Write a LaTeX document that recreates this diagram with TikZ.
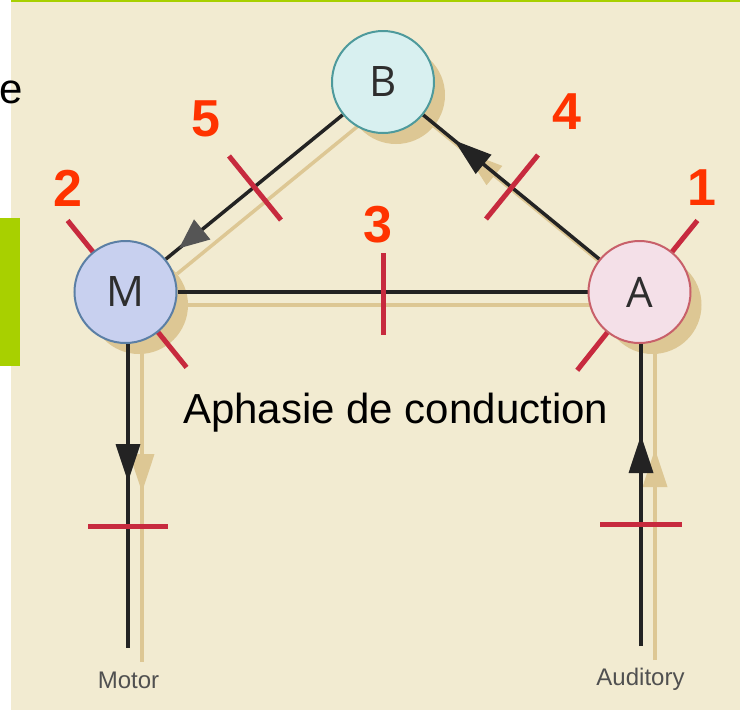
\documentclass[tikz,border=0pt]{standalone}
\usepackage{fontspec}
\setmainfont{Liberation Sans}
\newfontfamily\hubfont{Open Sans}
\usetikzlibrary{arrows.meta,decorations.markings,calc}
\definecolor{paper}{HTML}{F2EBD1}
\definecolor{lime}{HTML}{A8D000}
\definecolor{tan}{HTML}{DDC794}
\definecolor{wire}{HTML}{232323}
\definecolor{grayarrow}{HTML}{555555}
\definecolor{lesred}{HTML}{C72A3E}
\definecolor{numred}{HTML}{FF3300}
\definecolor{txt}{HTML}{2E2E2E}
\definecolor{labgray}{HTML}{505050}
\definecolor{Bfill}{HTML}{D8F0F0}
\definecolor{Bdraw}{HTML}{4E9A9C}
\definecolor{Mfill}{HTML}{C8D0EF}
\definecolor{Mdraw}{HTML}{5B7FA5}
\definecolor{Afill}{HTML}{F4E0E8}
\definecolor{Adraw}{HTML}{C8606A}
\tikzset{
  hub/.style={circle, minimum size=102pt, inner sep=0pt, line width=2pt,
    font=\hubfont\fontsize{42}{42}\selectfont, text=txt},
  shadowhub/.style={circle, minimum size=98pt, inner sep=0pt, fill=tan},
  wire/.style={line width=3.5pt, draw=wire},
  swire/.style={line width=3.5pt, draw=tan},
  lesion/.style={line width=5pt, draw=lesred},
  num/.style={font=\bfseries\fontsize{52}{52}\selectfont, text=numred, inner sep=0pt},
  tipat/.style args={#1/#2}{postaction={decorate}, decoration={markings,
    mark=at position #1 with {\arrow{Triangle[length=38pt,width=24pt,color=#2]}}}},
  graytip/.style={postaction={decorate}, decoration={markings,
    mark=at position #1 with {\arrow{Triangle[length=30pt,width=25pt,color=grayarrow]}}}},
}
\begin{document}
\begin{tikzpicture}[x=1pt,y=-1pt]
\useasboundingbox (0,0) rectangle (740,710);
% background
\fill[white] (0,0) rectangle (740,710);
\fill[paper] (11,2) rectangle (740,710);
\fill[lime] (11,0) rectangle (740,2);
\fill[lime] (0,218) rectangle (20,366);
% cut-off text
\node[anchor=base east, inner sep=0pt, font=\fontsize{42}{42}\selectfont] (cut) at (23,103) {e};
% shadow network
\node[shadowhub] (sB) at (396,95) {};
\node[shadowhub] (sM) at (139,305) {};
\node[shadowhub] (sA) at (652.5,305) {};
\coordinate (smot) at (142,662);
\coordinate (saud) at (655,660);
\draw[swire] (sB) -- (sM);
\draw[swire] (sM) -- (sA);
\draw[swire, tipat={-40pt/tan}] (sA) -- (sB);
\draw[swire, tipat={138pt/tan}] (sM.south -| smot) -- (smot);
\draw[swire, tipat={211pt/tan}] (saud) -- (saud |- sA.south);
% main nodes positions
\coordinate (Bc) at (383,82);
\coordinate (Mc) at (125.5,292);
\coordinate (Ac) at (639.5,292);
\coordinate (mot) at (128,648);
\coordinate (aud) at (641,646);
\node[hub, draw=none] (B) at (Bc) {};
\node[hub, draw=none] (M) at (Mc) {};
\node[hub, draw=none] (A) at (Ac) {};
% connectors
\draw[wire, graytip=-17pt] (B) -- (M);
\draw[wire] (M) -- (A);
\draw[wire, tipat={-40pt/wire}] (A) -- (B);
\draw[wire, tipat={138pt/wire}] (M.south -| mot) -- (mot);
\draw[wire, tipat={211pt/wire}] (aud) -- (aud |- A.south);
% lesions
\draw[lesion] (229,156) -- (281,220);
\draw[lesion] (538,155) -- (486,219);
\draw[lesion] (383,253) -- (383,335);
\draw[lesion] (88,526) -- (168,526);
\draw[lesion] (600,524) -- (682,524);
\draw[lesion] ($(Mc)+(129:40pt)$) -- ($(Mc)+(129:92pt)$);
\draw[lesion] ($(Mc)+(-51:40pt)$) -- ($(Mc)+(-51:97pt)$);
\draw[lesion] ($(Ac)+(51:40pt)$) -- ($(Ac)+(51:92pt)$);
\draw[lesion] ($(Ac)+(231.5:40pt)$) -- ($(Ac)+(231.5:100pt)$);
% circles on top
\node[hub, fill=Bfill, draw=Bdraw] at (Bc) {B};
\node[hub, fill=Mfill, draw=Mdraw] at (Mc) {M};
\node[hub, fill=Afill, draw=Adraw] at (Ac) {A};
% numbers
\node[num] (n1) at (702,188) {1};
\node[num] (n2) at (68,188) {2};
\node[num] (n3) at (378,225) {3};
\node[num] (n4) at (567,112) {4};
\node[num] (n5) at (205.5,119) {5};
% labels
\node[anchor=base west, inner sep=0pt, font=\fontsize{42}{42}\selectfont] (title) at (183,423) {Aphasie de conduction};
\node[anchor=base, inner sep=0pt, font=\fontsize{24}{24}\selectfont, text=labgray] (motorlab) at (128.5,688) {Motor};
\node[anchor=base, inner sep=0pt, font=\fontsize{24}{24}\selectfont, text=labgray] (audlab) at (640.5,685) {Auditory};
\end{tikzpicture}
\end{document}
